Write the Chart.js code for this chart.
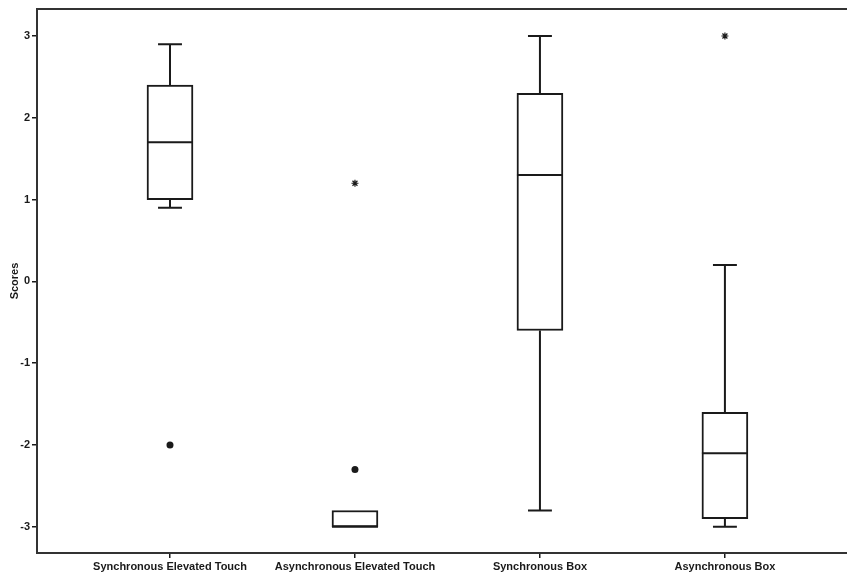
<!DOCTYPE html>
<html>
<head>
<meta charset="utf-8">
<script src="https://cdn.jsdelivr.net/npm/chart.js@4.4.1/dist/chart.umd.min.js"></script>
<style>
  html, body { margin: 0; padding: 0; background: #fff; }
  #wrap { width: 847px; height: 576px; }
</style>
</head>
<body>
<div id="wrap"><canvas id="c" width="847" height="576"></canvas></div>
<script>
// ---- data ----
const categories = ['Synchronous Elevated Touch', 'Asynchronous Elevated Touch', 'Synchronous Box', 'Asynchronous Box'];
const whiskerLow  = [0.9, -3.0, -2.8, -3.0];
const q1          = [1.0, -3.0, -0.6, -2.9];
const median      = [1.7, -3.0,  1.3, -2.1];
const q3          = [2.4, -2.8,  2.3, -1.6];
const whiskerHigh = [2.9, -2.8,  3.0,  0.2];
// outliers (circle) and extremes (star), by category index (1-based)
const outlierCat   = [1, 2];
const outlierVal   = [-2.0, -2.3];
const extremeCat   = [2, 4];
const extremeVal   = [1.2, 3.0];
const yTicks = [-3, -2, -1, 0, 1, 2, 3];

const INK = '#1a1a1a';
const FONT = "'Liberation Sans', Arial, sans-serif";

const boxData = categories.map((c, i) => ({ x: i + 1, y: [q1[i], q3[i]] }));
const outlierData = outlierCat.map((c, i) => ({ x: c, y: outlierVal[i] }));
const extremeData = extremeCat.map((c, i) => ({ x: c, y: extremeVal[i] }));

const whiskerPlugin = {
  id: 'whiskers',
  afterDatasetsDraw(chart) {
    const ctx = chart.ctx;
    const xs = chart.scales.x, ys = chart.scales.y;
    const meta = chart.getDatasetMeta(0);
    ctx.save();
    ctx.strokeStyle = INK;
    ctx.lineWidth = 2;
    categories.forEach((c, i) => {
      const x = xs.getPixelForValue(i + 1);
      const bw = meta.data[i].width;
      const cap = bw * 0.26;
      const pHi = ys.getPixelForValue(whiskerHigh[i]);
      const pQ3 = ys.getPixelForValue(q3[i]);
      const pQ1 = ys.getPixelForValue(q1[i]);
      const pLo = ys.getPixelForValue(whiskerLow[i]);
      const pMed = ys.getPixelForValue(median[i]);
      ctx.beginPath();
      if (whiskerHigh[i] > q3[i]) {
        ctx.moveTo(x, pHi); ctx.lineTo(x, pQ3);
        ctx.moveTo(x - cap, pHi); ctx.lineTo(x + cap, pHi);
      }
      if (whiskerLow[i] < q1[i]) {
        ctx.moveTo(x, pQ1); ctx.lineTo(x, pLo);
        ctx.moveTo(x - cap, pLo); ctx.lineTo(x + cap, pLo);
      }
      ctx.moveTo(x - bw / 2, pMed); ctx.lineTo(x + bw / 2, pMed);
      ctx.stroke();
    });
    ctx.restore();
  }
};

new Chart(document.getElementById('c'), {
  type: 'bar',
  data: {
    datasets: [
      {
        type: 'bar',
        data: boxData,
        backgroundColor: '#ffffff',
        borderColor: INK,
        borderWidth: 2,
        borderSkipped: false,
        barThickness: 46,
        order: 2
      },
      {
        type: 'scatter',
        data: outlierData,
        pointStyle: 'circle',
        pointRadius: 3.5,
        backgroundColor: INK,
        borderColor: INK,
        borderWidth: 0,
        order: 1
      },
      {
        type: 'scatter',
        data: extremeData,
        pointStyle: 'star',
        pointRadius: 3.5,
        backgroundColor: INK,
        borderColor: INK,
        borderWidth: 1.2,
        order: 1
      }
    ]
  },
  plugins: [whiskerPlugin],
  options: {
    responsive: false,
    animation: false,
    devicePixelRatio: 1,
    layout: { padding: { left: 0, right: 0, top: 0, bottom: 0 }, autoPadding: false },
    plugins: { legend: { display: false }, tooltip: { enabled: false } },
    scales: {
      x: {
        type: 'linear',
        position: 'bottom',
        offset: false,
        min: 0.281,
        max: 4.66,
        afterBuildTicks(scale) { scale.ticks = categories.map((c, i) => ({ value: i + 1 })); },
        afterFit(scale) { scale.height = 23; },
        ticks: {
          callback(v) { return categories[v - 1]; },
          color: INK,
          font: { family: FONT, size: 11, weight: 'bold' },
          padding: 2,
          maxRotation: 0,
          autoSkip: false
        },
        grid: { display: true, offset: false, drawOnChartArea: false, drawTicks: true, tickLength: 5, color: INK, lineWidth: 1.5 },
        border: { display: true, color: '#333', width: 2 }
      },
      xTop: {
        type: 'linear',
        position: 'top',
        min: 0, max: 1,
        afterFit(scale) { scale.height = 9; },
        ticks: { display: false },
        grid: { display: false, drawTicks: false },
        border: { display: true, color: '#333', width: 2 }
      },
      y: {
        type: 'linear',
        min: -3.32,
        max: 3.33,
        afterBuildTicks(scale) { scale.ticks = yTicks.map(v => ({ value: v })); },
        afterFit(scale) { scale.width = 37; },
        ticks: {
          color: INK,
          font: { family: FONT, size: 11, weight: 'bold' },
          padding: 2
        },
        grid: { display: true, drawOnChartArea: false, drawTicks: true, tickLength: 5, color: INK, lineWidth: 1.5 },
        border: { display: true, color: '#333', width: 2 },
        title: {
          display: true,
          text: 'Scores',
          color: INK,
          font: { family: FONT, size: 11, weight: 'bold' },
          padding: { top: 8, bottom: 0 }
        }
      }
    }
  }
});
</script>
</body>
</html>
